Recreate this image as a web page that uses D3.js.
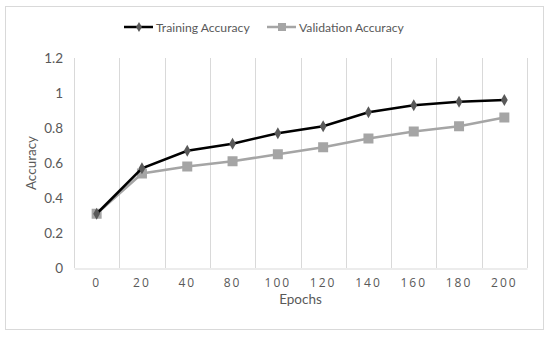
<!DOCTYPE html>
<html>
<head>
<meta charset="utf-8">
<script src="https://cdn.jsdelivr.net/npm/d3@7"></script>
<style>
  body { margin: 0; background: #fff; }
  text { font-family: Lato, "Open Sans", sans-serif; fill: #595959; }
</style>
</head>
<body>
<div id="chart"></div>
<script>
// data
var epochs = ["0", "20", "40", "80", "100", "120", "140", "160", "180", "200"];
var trainingAcc = [0.31, 0.57, 0.67, 0.71, 0.77, 0.81, 0.89, 0.93, 0.95, 0.96];
var validationAcc = [0.31, 0.54, 0.58, 0.61, 0.65, 0.69, 0.74, 0.78, 0.81, 0.86];
var yTicks = [0, 0.2, 0.4, 0.6, 0.8, 1, 1.2];

var w = 550, h = 337;
// note: "top" is taken by window.top, so plot edges get their own names
var plotLeft = 74, plotRight = 527, plotTop = 58, plotBottom = 268;

var svg = d3.select("#chart").append("svg")
  .attr("width", w)
  .attr("height", h);

// outer frame
svg.append("rect")
  .attr("x", 5.5).attr("y", 6.5)
  .attr("width", 538).attr("height", 323)
  .attr("fill", "#fff")
  .attr("stroke", "#d9d9d9");

var x = d3.scaleBand().domain(epochs).range([plotLeft, plotRight]);
var y = d3.scaleLinear().domain([0, 1.2]).range([plotBottom, plotTop]);

// vertical gridlines at band edges
var edges = epochs.map(function(d) { return x(d); }).concat([plotRight]);
svg.selectAll(".grid").data(edges).enter().append("line")
  .attr("x1", function(d) { return Math.round(d) + 0.5; })
  .attr("x2", function(d) { return Math.round(d) + 0.5; })
  .attr("y1", plotTop).attr("y2", plotBottom)
  .attr("stroke", "#d9d9d9");

// bottom axis
var xAxis = svg.append("g")
  .attr("transform", "translate(0," + (plotBottom + 0.5) + ")")
  .call(d3.axisBottom(x).tickSize(0).tickPadding(10));
xAxis.select(".domain").attr("stroke", "#d9d9d9");
xAxis.selectAll("text")
  .style("font-size", "12px")
  .style("letter-spacing", "2px")
  .style("font-family", "'Open Sans', sans-serif")
  .style("fill", "#595959");

// left axis labels only
var yAxis = svg.append("g")
  .attr("transform", "translate(" + plotLeft + ",0)")
  .call(d3.axisLeft(y).tickValues(yTicks).tickSize(0).tickPadding(11)
    .tickFormat(function(d) { return String(+d.toFixed(1)); }));
yAxis.select(".domain").remove();
yAxis.selectAll("text")
  .style("font-size", "13.5px")
  .style("font-family", "Lato, sans-serif")
  .style("fill", "#595959");

// axis titles
svg.append("text")
  .attr("x", (plotLeft + plotRight) / 2).attr("y", 304)
  .attr("text-anchor", "middle")
  .style("font-size", "13.5px")
  .text("Epochs");

svg.append("text")
  .attr("transform", "translate(36," + ((plotTop + plotBottom) / 2) + ") rotate(-90)")
  .attr("text-anchor", "middle")
  .style("font-size", "13.5px")
  .text("Accuracy");

var cx = function(d, i) { return x(epochs[i]) + x.bandwidth() / 2; };
var line = d3.line().x(cx).y(function(d) { return y(d); });

// validation series
svg.append("path").datum(validationAcc)
  .attr("d", line)
  .attr("fill", "none")
  .attr("stroke", "#a5a5a5")
  .attr("stroke-width", 2.5);
svg.selectAll(".vmark").data(validationAcc).enter().append("rect")
  .attr("x", function(d, i) { return cx(d, i) - 5; })
  .attr("y", function(d) { return y(d) - 5; })
  .attr("width", 10).attr("height", 10)
  .attr("fill", "#a5a5a5");

// training series
svg.append("path").datum(trainingAcc)
  .attr("d", line)
  .attr("fill", "none")
  .attr("stroke", "#000")
  .attr("stroke-width", 2.5);
var diamond = d3.symbol().type(d3.symbolDiamond).size(40);
svg.selectAll(".tmark").data(trainingAcc).enter().append("path")
  .attr("d", diamond)
  .attr("transform", function(d, i) { return "translate(" + cx(d, i) + "," + y(d) + ")"; })
  .attr("fill", "#595959");

// legend
var lg = svg.append("g");
lg.append("line").attr("x1", 124).attr("x2", 153).attr("y1", 27).attr("y2", 27)
  .attr("stroke", "#000").attr("stroke-width", 2.5);
lg.append("path").attr("d", d3.symbol().type(d3.symbolDiamond).size(30))
  .attr("transform", "translate(139,27)").attr("fill", "#595959");
lg.append("text").attr("x", 156).attr("y", 31.5).style("font-size", "12.2px").text("Training Accuracy");

lg.append("line").attr("x1", 267).attr("x2", 296).attr("y1", 27).attr("y2", 27)
  .attr("stroke", "#a5a5a5").attr("stroke-width", 2.5);
lg.append("rect").attr("x", 278).attr("y", 23).attr("width", 8).attr("height", 8).attr("fill", "#a5a5a5");
lg.append("text").attr("x", 299).attr("y", 31.5).style("font-size", "12.2px").text("Validation Accuracy");
</script>
</body>
</html>
